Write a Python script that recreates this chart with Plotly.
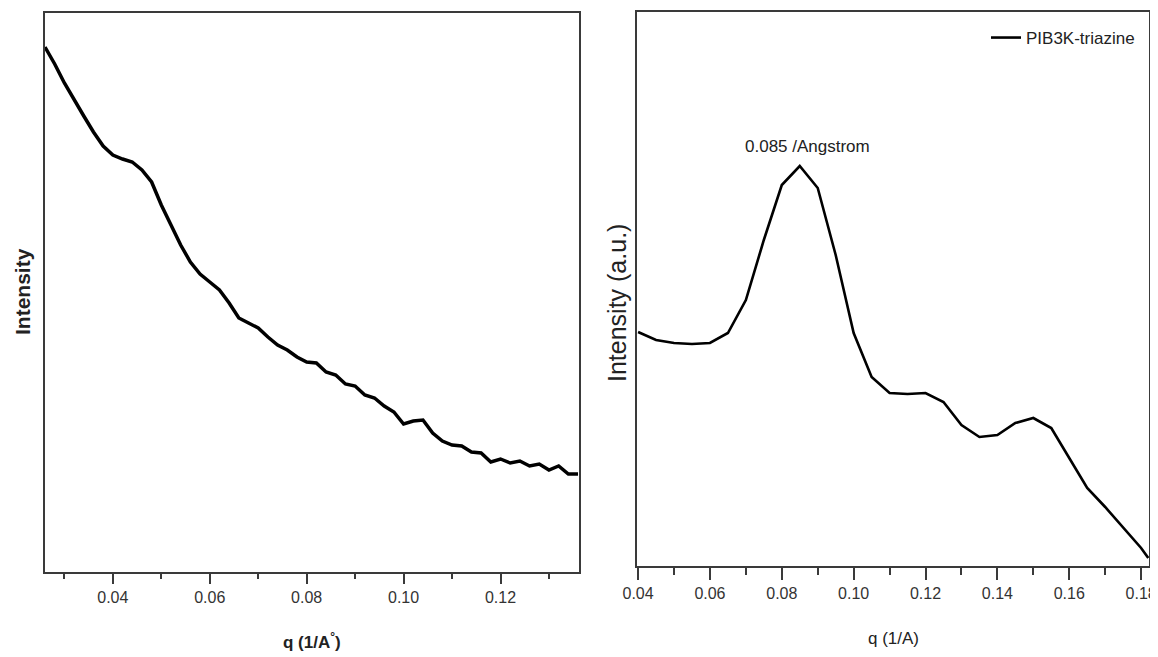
import plotly.graph_objects as go

# ---------------- data ----------------
# Left panel: q (1/A) and intensity (arbitrary units)
q_left = [0.026, 0.028, 0.030, 0.032, 0.034, 0.036, 0.038, 0.040, 0.042, 0.044,
          0.046, 0.048, 0.050, 0.052, 0.054, 0.056, 0.058, 0.060, 0.062, 0.064,
          0.066, 0.068, 0.070, 0.072, 0.074, 0.076, 0.078, 0.080, 0.082, 0.084,
          0.086, 0.088, 0.090, 0.092, 0.094, 0.096, 0.098, 0.100, 0.102, 0.104,
          0.106, 0.108, 0.110, 0.112, 0.114, 0.116, 0.118, 0.120, 0.122, 0.124,
          0.126, 0.128, 0.130, 0.132, 0.134, 0.136]
i_left = [5.25, 5.08, 4.89, 4.72, 4.56, 4.40, 4.26, 4.17, 4.13, 4.10,
          4.02, 3.90, 3.67, 3.47, 3.27, 3.10, 2.98, 2.90, 2.82, 2.69,
          2.54, 2.49, 2.44, 2.35, 2.27, 2.22, 2.15, 2.10, 2.09, 2.00,
          1.97, 1.88, 1.86, 1.77, 1.74, 1.66, 1.60, 1.48, 1.51, 1.52,
          1.39, 1.31, 1.27, 1.26, 1.20, 1.19, 1.10, 1.13, 1.09, 1.11,
          1.06, 1.08, 1.02, 1.06, 0.98, 0.98]

# Right panel: PIB3K-triazine
q_right = [0.040, 0.045, 0.050, 0.055, 0.060, 0.065, 0.070, 0.075, 0.080, 0.085,
           0.090, 0.095, 0.100, 0.105, 0.110, 0.115, 0.120, 0.125, 0.130, 0.135,
           0.140, 0.145, 0.150, 0.155, 0.160, 0.165, 0.170, 0.175, 0.180, 0.182]
i_right = [2.34, 2.26, 2.23, 2.22, 2.23, 2.33, 2.66, 3.26, 3.81, 4.00,
           3.78, 3.11, 2.33, 1.89, 1.73, 1.72, 1.73, 1.64, 1.41, 1.29,
           1.31, 1.43, 1.48, 1.38, 1.08, 0.78, 0.59, 0.38, 0.18, 0.08]

series_name = "PIB3K-triazine"
peak_label = "0.085 /Angstrom"
left_xtitle = "<b>q (1/A<sup>°</sup>)</b>"
left_ytitle = "<b>Intensity</b>"
right_xtitle = "q (1/A)"
right_ytitle = "Intensity (a.u.)"

FONT = "Liberation Sans, Arial, sans-serif"
AXC = "#3a3a3a"
OFF = 8                      # page body margin
W, H = 1158 - OFF, 657 - OFF


def px(x):
    return (x - OFF) / W


def py(y):
    return (H - (y - OFF)) / H


fig = go.Figure()
fig.add_trace(go.Scatter(x=q_left, y=i_left, mode="lines",
                         line=dict(color="black", width=3.5),
                         xaxis="x", yaxis="y", showlegend=False))
fig.add_trace(go.Scatter(x=q_right, y=i_right, mode="lines", name=series_name,
                         line=dict(color="black", width=2.6),
                         xaxis="x2", yaxis="y2", showlegend=True))

common_x = dict(showline=True, linecolor=AXC, linewidth=1.6, mirror=True,
                showgrid=False, zeroline=False, ticks="outside", automargin=False,
                tickcolor=AXC, tickwidth=1.5, tickformat=".2f",
                tickfont=dict(family=FONT, size=16, color="#333"))
common_y = dict(showline=True, linecolor=AXC, linewidth=1.6, mirror=True,
                showgrid=False, zeroline=False, ticks="", showticklabels=False,
                automargin=False)

fig.update_layout(
    template="none",
    width=W, height=H,
    margin=dict(l=0, r=0, t=0, b=0, pad=0),
    paper_bgcolor="white", plot_bgcolor="white",
    font=dict(family=FONT, color="#222"),
    xaxis=dict(**common_x, domain=[px(45), px(579)], range=[0.026, 0.1362],
               tick0=0.04, dtick=0.02, ticklen=10, anchor="y",
               minor=dict(ticks="outside", ticklen=5, tick0=0.03, dtick=0.01,
                          tickcolor=AXC, tickwidth=1.5)),
    yaxis=dict(**common_y, domain=[py(572), py(13)], range=[0, 5.59], anchor="x"),
    xaxis2=dict(**common_x, domain=[px(637), px(1149)], range=[0.0397, 0.1822],
                tick0=0.04, dtick=0.02, ticklen=12, anchor="y2",
                minor=dict(ticks="outside", ticklen=7, tick0=0.03, dtick=0.01,
                           tickcolor=AXC, tickwidth=1.5)),
    yaxis2=dict(**common_y, domain=[py(566), py(12)], range=[0, 5.54], anchor="x2"),
    legend=dict(x=px(1140), xanchor="right", y=py(20), yanchor="top",
                bgcolor="rgba(0,0,0,0)", borderwidth=0,
                font=dict(family=FONT, size=17, color="#222"),
                itemwidth=30, tracegroupgap=0),
)

annos = [
    dict(text=peak_label, x=0.0871, y=4.2, xref="x2", yref="y2", showarrow=False,
         xanchor="center", yanchor="middle",
         font=dict(family=FONT, size=17, color="#222")),
    dict(text=left_xtitle, x=px(312), y=py(641), xref="paper", yref="paper",
         xanchor="center", yanchor="middle", showarrow=False,
         font=dict(family=FONT, size=17, color="#222")),
    dict(text=right_xtitle, x=px(893), y=py(638), xref="paper", yref="paper",
         xanchor="center", yanchor="middle", showarrow=False,
         font=dict(family=FONT, size=17, color="#222")),
    dict(text=left_ytitle, x=px(22), y=py(292), xref="paper", yref="paper",
         xanchor="center", yanchor="middle", showarrow=False, textangle=-90,
         font=dict(family=FONT, size=21, color="#222")),
    dict(text=right_ytitle, x=px(617), y=py(303), xref="paper", yref="paper",
         xanchor="center", yanchor="middle", showarrow=False, textangle=-90,
         font=dict(family=FONT, size=25, color="#222")),
]
fig.update_layout(annotations=annos)

fig.write_html("out.html")
